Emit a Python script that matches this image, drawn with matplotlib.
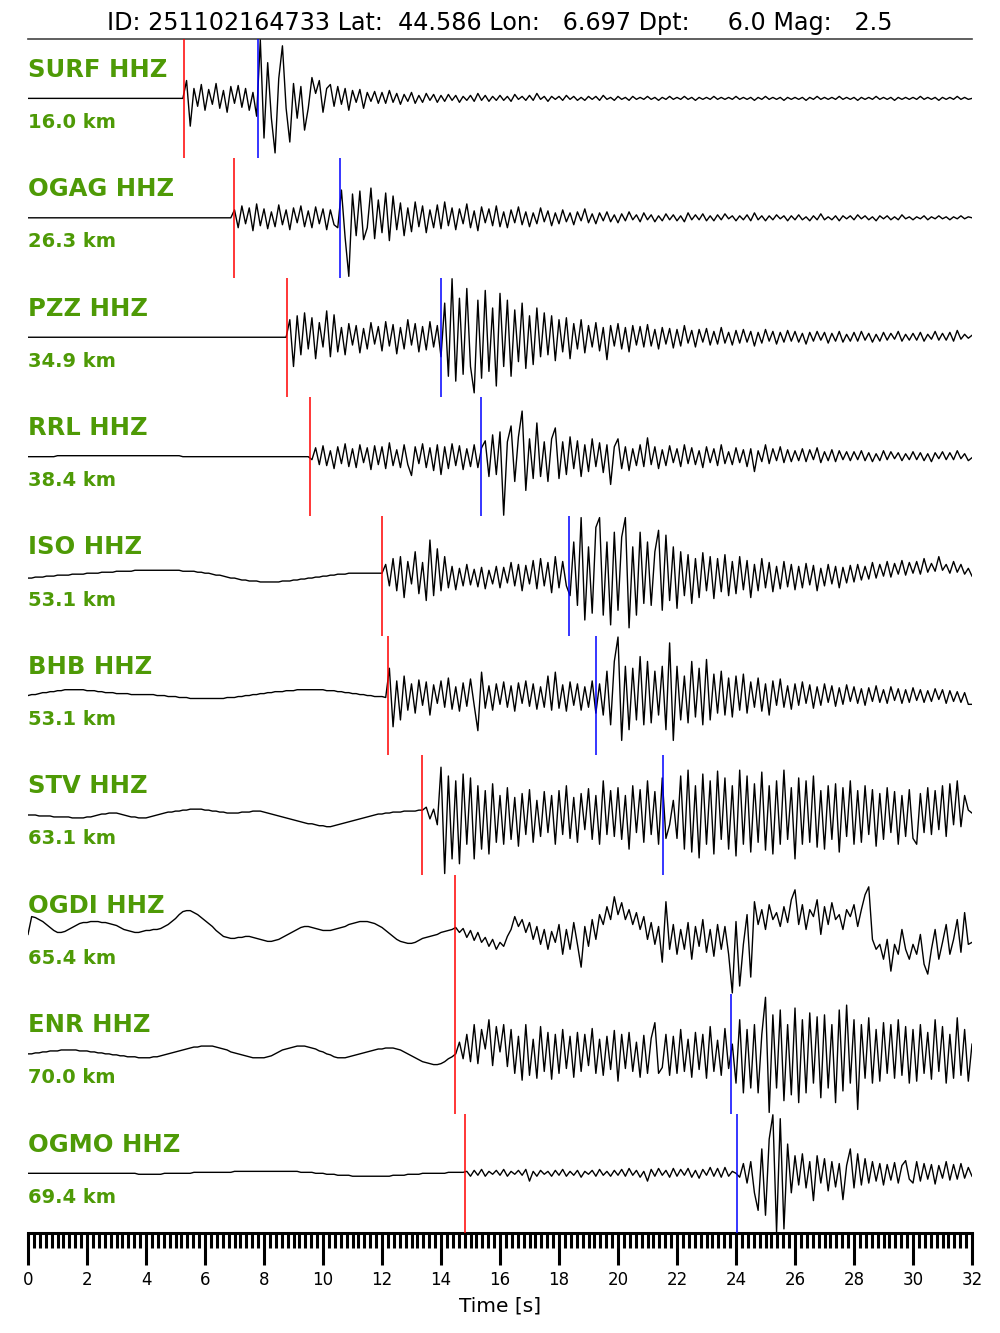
import matplotlib
matplotlib.use("Agg")
import matplotlib.pyplot as plt
from matplotlib.ticker import MultipleLocator
import numpy as np

# event header
EVENT_ID = "251102164733"
LAT, LON, DEPTH, MAG = 44.586, 6.697, 6.0, 2.5

# stations, top to bottom
STATIONS = ["SURF", "OGAG", "PZZ", "RRL", "ISO", "BHB", "STV", "OGDI", "ENR", "OGMO"]
CHANNEL = "HHZ"
DIST_KM = [16.0, 26.3, 34.9, 38.4, 53.1, 53.1, 63.1, 65.4, 70.0, 69.4]
P_PICK = [5.29, 6.98, 8.78, 9.56, 12.00, 12.20, 13.36, 14.47, 14.47, 14.81]
S_PICK = [7.80, 10.58, 14.00, 15.36, 18.34, 19.25, 21.53, None, 23.83, 24.03]

# decimated vertical traces, one sample every DT seconds (0 .. 32 s), relative counts
DT = 0.125
SURF = [
    0, 0, 0, 0, 0, 0, 0, 0, 0, 0, 0, 0, 0, 0, 0, 0,
    0, 0, 0, 0, 0, 0, 0, 0, 0, 0, 0, 0, 0, 0, 0, 0,
    0, 0, 0, 0, 0, 0, 0, 0, 0, 0, 0, 18, -28, 10, -8, 14,
    -12, 9, -6, 15, -10, 8, -14, 12, -5, 13, -9, 10, -12, 6, -18, 59,
    -40, 36, -20, -55, 20, 53, -10, -44, 15, -20, 12, -32, -10, 21, 5, 18,
    -14, 10, 14, -8, 12, -6, 10, -12, 8, -4, 9, -10, 6, -3, 7, -5,
    6, -5, 8, -4, 5, -6, 4, -3, 6, -5, 3, -4, 5, -2, 4, -4,
    3, -3, 4, -2, 3, -4, 2, -2, 3, -3, 5, -2, 3, -3, 2, -2,
    3, -2, 2, -3, 4, -1, 2, -2, 3, -2, 5, -1, 2, -3, 2, -1,
    2, -2, 3, -1, 2, -2, 1, -2, 2, -1, 2, -2, 3, -1, 1, -2,
    2, -1, 1, -2, 2, -1, 1, -1, 2, -1, 1, -2, 1, -1, 2, -1,
    1, -1, 2, -1, 1, -2, 1, -1, 1, -1, 2, -1, 1, -1, 1, -1,
    2, -1, 1, -1, 1, -2, 1, -1, 2, -1, 1, -1, 1, -2, 1, -1,
    1, -1, 1, -2, 1, -1, 2, -1, 1, -1, 1, -1, 2, -1, 1, -1,
    1, -2, 1, -1, 1, -1, 2, -1, 1, -1, 1, -2, 1, -1, 1, -1,
    1, -1, 2, -1, 1, -1, 1, -2, 1, -1, 1, -1, 2, -1, 1, -1,
    0,
]
OGAG = [
    0, 0, 0, 0, 0, 0, 0, 0, 0, 0, 0, 0, 0, 0, 0, 0,
    0, 0, 0, 0, 0, 0, 0, 0, 0, 0, 0, 0, 0, 0, 0, 0,
    0, 0, 0, 0, 0, 0, 0, 0, 0, 0, 0, 0, 0, 0, 0, 0,
    0, 0, 0, 0, 0, 0, 0, 0, 8, -10, 12, -6, 10, -13, 14, -8,
    9, -11, 6, -9, 13, -7, 8, -12, 10, -5, 12, -9, 7, -10, 11, -6,
    9, -12, 8, -7, -10, 28, -20, -59, 24, -18, 27, -22, -10, 30, -21, 18,
    -15, 25, -23, 22, -12, 15, -18, 10, -14, 16, -9, 12, -15, 8, -10, 13,
    -11, 16, -8, 10, -12, 9, -6, 14, -10, 7, -13, 11, -5, 9, -8, 12,
    -9, 6, -10, 8, -5, 11, -7, 6, -9, 5, -6, 10, -4, 7, -8, 5,
    -6, 8, -4, 5, -7, 6, -3, 9, -5, 4, -6, 5, -3, 6, -4, 3,
    -5, 4, -3, 6, -2, 3, -4, 5, -2, 3, -4, 2, -3, 4, -2, 3,
    -3, 2, -4, 5, -2, 3, -2, 4, -3, 2, -3, 3, -2, 4, -1, 2,
    -3, 2, -2, 3, -3, 5, -2, 2, -3, 2, -2, 3, -1, 2, -3, 2,
    -2, 3, -2, 1, -3, 2, -2, 4, -2, 1, -2, 2, -3, 2, -1, 2,
    -2, 3, -1, 2, -2, 1, -3, 2, -1, 2, -2, 1, -2, 3, -1, 1,
    -2, 1, -1, 2, -2, 1, -1, 2, -1, 1, -2, 1, -1, 2, -1, 1,
    0,
]
PZZ = [
    0, 0, 0, 0, 0, 0, 0, 0, 0, 0, 0, 0, 0, 0, 0, 0,
    0, 0, 0, 0, 0, 0, 0, 0, 0, 0, 0, 0, 0, 0, 0, 0,
    0, 0, 0, 0, 0, 0, 0, 0, 0, 0, 0, 0, 0, 0, 0, 0,
    0, 0, 0, 0, 0, 0, 0, 0, 0, 0, 0, 0, 0, 0, 0, 0,
    0, 0, 0, 0, 0, 0, 0, 18, -30, 22, -18, 25, -12, 20, -22, 15,
    -10, 27, -20, 23, -15, 10, -18, 14, -8, 12, -16, 9, -12, 15, -7, 11,
    -14, 16, -9, 13, -17, 10, -12, 18, -8, 14, -15, 11, -13, 16, -10, 12,
    -20, 35, -40, 60, -45, 40, -38, 50, -30, -57, 38, -42, 48, -35, 30, -50,
    45, -30, 38, -40, 28, -25, 35, -32, 22, -28, 30, -20, 25, -18, 22, -24,
    18, -15, 20, -22, 14, -12, 18, -16, 12, -10, 15, -14, 10, -23, 12, -9,
    14, -12, 10, -15, 12, -8, 11, -10, 13, -9, 8, -12, 10, -7, 9, -11,
    8, -9, 12, -6, 7, -10, 8, -5, 9, -8, 6, -7, 10, -6, 5, -8,
    7, -6, 8, -5, 6, -9, 5, -6, 8, -4, 6, -7, 5, -5, 7, -4,
    6, -5, 4, -7, 5, -4, 6, -3, 5, -6, 4, -4, 6, -5, 3, -4,
    5, -4, 6, -3, 4, -5, 3, -4, 5, -3, 4, -2, 6, -4, 3, -3,
    4, -3, 5, -4, 3, -2, 6, -3, 4, -3, 5, -4, 7, -2, 3, -1,
    2,
]
RRL = [
    0, 0, 0, 0, 0, 0, 0, 0, 1, 1, 1, 1, 1, 1, 1, 1,
    1, 1, 1, 1, 1, 1, 1, 1, 1, 1, 1, 1, 1, 1, 1, 1,
    1, 1, 1, 1, 1, 1, 1, 1, 1, 1, 0, 0, 0, 0, 0, 0,
    0, 0, 0, 0, 0, 0, 0, 0, 0, 0, 0, 0, 0, 0, 0, 0,
    0, 0, 0, 0, 0, 0, 0, 0, 0, 0, 0, 0, 0, -3, 9, -8,
    11, -9, 6, -12, 10, -7, 13, -10, 8, -11, 12, -6, 9, -13, 11, -8,
    10, -12, 14, -9, 7, -11, 12, -8, -19, 10, -7, 13, -11, 9, -14, 12,
    -18, 10, -12, 13, -9, 11, -13, 8, -10, 12, -11, 9, 16, -20, 22, -18,
    25, -59, 15, 31, -25, 20, 46, -34, 18, -22, 34, -20, 15, -25, 18, 29,
    -22, 15, -18, 20, -12, 16, -20, 12, -15, 18, -10, 14, -16, 12, -28, 10,
    18, -12, 10, -14, 8, -9, 12, -10, 19, -8, 10, -12, 7, -9, 11, -6,
    8, -10, 12, -7, 9, -8, 6, -11, 10, -6, 8, -9, 12, -7, 5, -8,
    9, -6, 7, -10, 8, -15, 6, -5, 12, -7, 8, -4, 10, -6, 7, -5,
    6, -4, 8, -5, 7, -3, 9, -6, 5, -4, 7, -5, 6, -3, 5, -4,
    5, -3, 6, -4, 4, -5, 3, -4, 6, -3, 5, -2, 4, -4, 3, -3,
    5, -3, 4, -4, 3, -5, 4, -2, 5, -3, 4, -3, 6, -2, 3, -4,
    -1,
]
ISO = [
    -2, -2, -1, -1, -1, 0, 0, 0, 1, 1, 1, 1, 2, 2, 2, 2,
    3, 3, 3, 3, 4, 4, 4, 4, 5, 5, 5, 5, 5, 6, 6, 6,
    6, 6, 6, 6, 6, 6, 6, 6, 6, 6, 5, 5, 5, 5, 4, 4,
    3, 3, 2, 1, 1, 0, -1, -2, -2, -3, -4, -4, -5, -5, -5, -6,
    -6, -6, -6, -6, -6, -5, -5, -5, -4, -4, -3, -3, -2, -2, -1, -1,
    0, 0, 1, 1, 2, 2, 2, 3, 3, 3, 3, 3, 3, 3, 3, 3,
    3, 12, -10, 18, -15, 20, -22, 15, -8, 25, -18, 14, -25, 37, -20, 28,
    -15, 20, -12, 10, -14, 8, -10, 12, -9, 7, -11, 9, -13, 6, -8, 10,
    -12, 9, -7, 14, -10, 12, -15, 11, -8, 16, -13, 18, -10, 14, -17, 20,
    -12, 15, -10, -20, 35, -30, 60, -45, 30, -38, 50, 60, -40, 35, -50, 45,
    -35, 40, 60, -53, 30, -40, 45, -28, 35, -30, 25, 47, -35, 42, -25, 30,
    -33, 25, -20, 22, -28, 18, -22, 24, -15, 20, -23, 18, -16, 22, -20, 15,
    -18, 20, -14, 16, -22, 12, -15, 18, -12, 14, -16, 10, -13, 15, -11, 12,
    -14, 10, -12, 13, -9, 11, -15, 8, -10, 12, -8, 10, -12, 9, -7, 11,
    -6, 12, -4, 10, -3, 14, -2, 12, 0, 15, -1, 13, 2, 16, 1, 14,
    3, 15, 2, 18, 4, 13, 5, 20, 6, 12, 3, 15, 4, 12, 2, 8,
    0,
]
BHB = [
    0, 1, 1, 2, 3, 3, 4, 4, 5, 5, 6, 6, 6, 6, 6, 6,
    5, 5, 5, 4, 4, 3, 3, 3, 2, 2, 2, 2, 1, 1, 1, 1,
    1, 1, 1, 0, 0, 0, -1, -1, -1, -2, -2, -2, -3, -3, -3, -3,
    -3, -3, -3, -3, -3, -3, -2, -2, -2, -1, -1, 0, 0, 1, 1, 2,
    2, 3, 3, 4, 4, 4, 5, 5, 5, 6, 6, 6, 6, 6, 6, 6,
    6, 5, 5, 5, 4, 4, 3, 3, 2, 2, 1, 1, 0, 0, -1, -1,
    -1, -2, 28, -32, 15, -25, 20, -15, 12, -18, 16, -10, 14, -20, 11, -8,
    15, -12, 18, -14, 9, -16, 13, -11, 17, -10, -36, 24, -13, 10, -15, 12,
    -9, 14, -12, 10, -16, 13, -8, 15, -11, 12, -14, 9, -12, 20, -15, 24,
    -13, 11, -16, 14, -10, 12, -15, 9, -12, 15, -18, 12, -20, 25, -30, 35,
    60, -46, 30, -35, 28, -25, 40, -30, 35, -28, 25, -20, 30, -35, 54, -46,
    30, -25, 20, -28, 35, -22, 28, -30, 37, -25, 22, -18, 25, -20, 18, -22,
    20, -15, 22, -18, 14, -12, 18, -16, 12, -20, 15, -10, 17, -12, 10, -14,
    12, -10, 14, -8, 11, -13, 9, -10, 12, -7, 10, -11, 8, -9, 11, -6,
    9, -8, 7, -10, 8, -6, 10, -7, 6, -8, 9, -5, 7, -8, 6, -7,
    8, -5, 6, -7, 5, -6, 7, -4, 6, -8, 5, -6, 4, -7, 3, -9,
    -9,
]
STV = [
    0, 0, 0, -1, -1, -1, -1, -2, -2, -2, -2, -2, -3, -3, -3, -3,
    -2, -2, -1, 0, 1, 1, 2, 2, 2, 1, 0, -1, -2, -2, -3, -3,
    -3, -2, -1, 0, 1, 2, 3, 3, 4, 4, 5, 5, 6, 6, 6, 6,
    5, 5, 4, 4, 3, 3, 2, 2, 2, 2, 3, 3, 3, 4, 4, 4,
    3, 2, 1, 0, -1, -2, -3, -4, -5, -6, -7, -8, -9, -9, -10, -11,
    -11, -12, -12, -11, -10, -9, -8, -7, -6, -5, -4, -3, -2, -1, 0, 1,
    1, 2, 2, 3, 3, 3, 4, 4, 4, 4, 5, 5, 8, -4, 6, -10,
    49, -60, 40, -45, 35, -50, 42, -30, 38, -45, 30, -35, 25, -40, 32, -28,
    20, -30, 28, -25, 18, -32, 22, -20, 26, -28, 15, -22, 24, -18, 20, -30,
    25, -20, 30, -24, 18, -28, 22, -15, 27, -25, 20, -30, 35, -20, 25, -22,
    28, -25, 20, -35, 30, -18, 26, -28, 35, -20, 24, -30, 38, -24, -10, 15,
    -24, 40, -35, 46, -38, 30, -44, 42, -30, 35, -40, 45, -25, 38, -35, 30,
    -42, 46, -30, 40, -38, 32, -28, 44, -36, 30, -40, 35, -30, 46, -25, 28,
    -45, 38, -30, 35, -28, 40, -33, 25, -35, 30, -25, 32, -38, 28, -22, 35,
    -30, 25, -28, 30, -20, 26, -32, 22, -25, 28, -18, 24, -30, 20, -22, 26,
    -24, -30, 22, -18, 28, -20, 25, -15, 30, -22, 32, -10, 35, -12, 20, 5,
    2,
]
OGDI = [
    0, 18, 17, 15, 13, 10, 7, 4, 2, 2, 3, 5, 7, 9, 11, 12,
    12, 13, 13, 13, 12, 12, 11, 10, 9, 7, 5, 4, 3, 2, 2, 3,
    4, 4, 5, 5, 6, 8, 10, 13, 16, 20, 23, 24, 24, 22, 20, 17,
    14, 11, 8, 4, 1, -2, -3, -4, -4, -3, -3, -2, -2, -3, -4, -5,
    -6, -7, -7, -6, -5, -3, -1, 1, 3, 5, 7, 8, 8, 7, 6, 5,
    4, 4, 4, 5, 6, 7, 8, 10, 11, 12, 13, 13, 13, 12, 11, 9,
    7, 4, 1, -2, -5, -7, -8, -9, -9, -8, -6, -4, -3, -2, -1, 0,
    2, 3, 4, 5, 7, 2, 6, -3, 4, -6, 2, -8, -3, -12, -5, -15,
    -8, -12, -2, 5, 18, 8, 15, 2, 12, -5, 8, -10, 5, -15, 3, -8,
    10, -20, 5, -15, 12, -10, -33, 8, -12, 15, -5, 20, 10, 28, 15, 38,
    20, 32, 15, 25, 10, 22, 5, 18, -5, 12, -10, 8, -28, 33, -15, 10,
    -20, 5, -15, 12, -25, 8, -12, 15, -18, 5, -22, 10, -15, 8, -20, -59,
    13, -52, -10, 20, -43, 33, 10, 25, 5, 30, 15, 22, 8, 28, 12, 35,
    45, 10, 30, 5, 25, 18, 35, 0, 28, 10, 32, 15, 20, 5, 25, 18,
    30, 8, 25, 40, 48, -5, -15, -10, -25, -5, -37, -10, -20, 5, -15, -25,
    -10, -20, 0, -30, -40, -15, 5, -25, -8, 10, -20, -5, 15, -18, 22, -10,
    -8,
]
ENR = [
    0, 0, 1, 1, 2, 2, 3, 3, 3, 4, 4, 4, 4, 4, 3, 3,
    3, 2, 2, 1, 1, 0, 0, -1, -1, -2, -2, -3, -3, -3, -4, -4,
    -4, -4, -3, -3, -2, -1, 0, 1, 2, 3, 4, 5, 6, 7, 7, 8,
    8, 8, 8, 7, 6, 5, 4, 2, 1, 0, -1, -2, -3, -4, -4, -4,
    -4, -3, -2, 0, 2, 4, 5, 6, 7, 8, 8, 8, 7, 6, 5, 3,
    2, 0, -1, -3, -4, -4, -4, -3, -2, -1, 0, 1, 2, 3, 4, 5,
    5, 6, 6, 6, 5, 4, 2, 0, -2, -4, -6, -8, -9, -10, -11, -11,
    -10, -8, -5, -3, 0, 12, -5, 20, -8, 30, -10, 25, 5, 35, -12, 28,
    2, 30, -13, 25, -20, 18, -27, 30, -22, 15, -25, 28, -18, 22, -26, 20,
    -20, 25, -15, 18, -24, 22, -18, 20, -12, 26, -20, 15, -22, 18, -16, 24,
    -28, 20, -15, 22, -18, 12, -24, 19, -20, 16, 32, -20, -14, 20, -22, 18,
    -20, 25, -18, 15, -24, 22, -16, 20, -25, 28, -18, 14, -22, 26, -15, 10,
    -30, 35, -40, 25, -35, 30, -40, 20, 58, -60, 40, -35, 45, -48, 30, -42,
    47, -50, 35, -40, 42, -30, 38, -45, 40, -35, 30, -50, 45, -38, 50, -30,
    35, -57, 30, -25, 37, -30, 25, -28, 32, -20, 30, -25, 35, -22, 28, -30,
    25, -28, 30, -20, 22, -26, 35, -18, 28, -30, 20, -25, 37, -22, 25, -28,
    10,
]
OGMO = [
    0, 0, 0, 0, 0, 0, 0, 0, 0, 0, 0, 0, 0, 0, 0, 0,
    0, 0, 0, 0, 0, 0, 0, 0, 0, 0, 0, 0, 0, 0, -1, -1,
    -1, -1, -1, -1, -1, 0, 0, 0, 0, 0, 0, 0, 0, 1, 1, 1,
    1, 1, 1, 1, 1, 1, 1, 1, 2, 2, 2, 2, 2, 2, 2, 2,
    2, 2, 2, 2, 2, 2, 2, 2, 2, 2, 1, 1, 1, 1, 0, 0,
    0, -1, -1, -1, -2, -2, -2, -2, -3, -3, -3, -3, -3, -3, -3, -3,
    -3, -3, -3, -2, -2, -2, -2, -1, -1, -1, -1, 0, 0, 0, 0, 0,
    0, 0, 1, 1, 1, 1, 1, 2, -3, 3, -2, 4, -3, 2, -1, 3,
    -2, 4, -3, 2, -1, 3, -2, 4, -8, 2, -3, 3, -1, 2, -3, 3,
    -2, 4, -3, 2, -2, 3, -4, 2, -1, 3, -3, 4, -2, 2, -3, 3,
    -2, 4, -3, 5, -2, 3, -4, 2, -8, 4, -3, 5, -2, 3, -4, 5,
    -3, 4, -2, 5, -4, 3, -5, 4, -2, 6, -3, 5, -4, 6, -3, 2,
    0, -4, 10, -10, 12, -20, -38, 25, -43, 35, 60, -60, 56, -57, 30, -20,
    18, -12, 20, -15, 12, -28, 18, -10, 15, -18, 12, -14, 10, -27, 8, 25,
    -15, 20, -12, 15, -10, 12, -8, 10, -12, 9, -7, 11, -10, 8, 13, -6,
    -10, 12, -8, 10, -6, 9, -11, 8, -5, 12, -7, 9, -6, 10, -5, 6,
    -3,
]
TRACES = [SURF, OGAG, PZZ, RRL, ISO, BHB, STV, OGDI, ENR, OGMO]

GREEN = "#4e9a06"
T_END = 32

fig = plt.figure(figsize=(10, 13.33), dpi=100)
ax = fig.add_axes([0.028, 0.075, 0.944, 0.896])
n = len(STATIONS)

for k, (sta, dist, tp, ts, tr) in enumerate(zip(STATIONS, DIST_KM, P_PICK, S_PICK, TRACES)):
    top = n - k
    mid = top - 0.5
    v = np.asarray(tr, dtype=float)
    t = np.arange(len(v)) * DT
    ax.plot(t, mid + 0.49 * v / np.abs(v).max(), color="black", lw=1.0, zorder=3)
    ax.vlines(tp, top - 1, top, color="red", lw=1.1, zorder=4)
    if ts is not None:
        ax.vlines(ts, top - 1, top, color="blue", lw=1.1, zorder=4)
    ax.text(0, top - 0.26, f"{sta} {CHANNEL}", color=GREEN, fontsize=17.5,
            fontweight="bold", ha="left", va="center", zorder=5)
    ax.text(0, top - 0.70, f"{dist:.1f} km", color=GREEN, fontsize=14,
            fontweight="bold", ha="left", va="center", zorder=5)

ax.set_xlim(0, T_END)
ax.set_ylim(0, n)
ax.set_yticks([])
for s in ("left", "right"):
    ax.spines[s].set_visible(False)
ax.spines["top"].set_color("#444444")
ax.spines["top"].set_linewidth(1.2)
ax.spines["bottom"].set_linewidth(2.2)

ax.xaxis.set_major_locator(MultipleLocator(2))
ax.xaxis.set_minor_locator(MultipleLocator(0.2))
ax.tick_params(axis="x", which="major", length=23, width=2.2, labelsize=12, pad=4)
ax.tick_params(axis="x", which="minor", length=11, width=2.2)
ax.set_xlabel("Time [s]", fontsize=14.5, labelpad=6)

title = f"ID: {EVENT_ID} Lat: {LAT:7.3f} Lon: {LON:7.3f} Dpt: {DEPTH:7.1f} Mag: {MAG:5.1f}"
fig.text(0.5, 1 - 23 / 1333, title, ha="center", va="center", fontsize=17.2)

fig.savefig("out.png", dpi=100)
